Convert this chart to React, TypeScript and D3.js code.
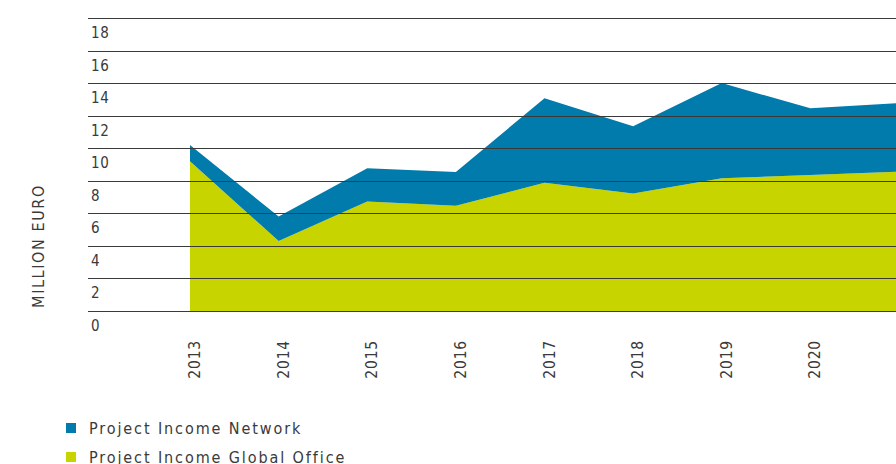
import * as d3 from 'd3';

const years = ['2013', '2014', '2015', '2016', '2017', '2018', '2019', '2020', 'FORECAST 2021'];
const globalOffice = [9.2, 4.3, 6.72, 6.47, 7.88, 7.22, 8.15, 8.35, 8.56];
const network = [1.0, 1.5, 2.05, 2.07, 5.19, 4.13, 5.85, 4.1, 4.22];
const yTicks = [0, 2, 4, 6, 8, 10, 12, 14, 16, 18];

const series = [
  { key: 'global', label: 'Project Income Global Office', color: '#c8d400' },
  { key: 'network', label: 'Project Income Network', color: '#007bac' },
];

const W = 896;
const H = 464;
const font = "'DejaVu Sans Condensed', 'Liberation Sans Narrow', sans-serif";
const ink = '#3a3a3a';

export default function App() {
  const x = d3.scalePoint<string>().domain(years).range([190, 899]);
  const y = d3.scaleLinear().domain([0, 18]).range([311, 18]);

  const rows = years.map((yr, i) => ({ year: yr, global: globalOffice[i], network: network[i] }));
  const stacked = d3.stack<any>().keys(series.map(s => s.key))(rows);

  const area = d3.area<any>()
    .x(d => x(d.data.year) as number)
    .y0(d => y(d[0]))
    .y1(d => y(d[1]));

  return (
    <svg width={W} height={H} style={{ position: 'absolute', left: 0, top: 0, background: '#fff' }}>
      {stacked.map((s, i) => (
        <path key={s.key} d={area(s) || ''} fill={series[i].color} />
      ))}

      {/* gridlines, label sits under each line */}
      {yTicks.map(t => {
        const py = Math.round(y(t)) + 0.5;
        return (
          <g key={t}>
            <line x1={88} x2={W} y1={py} y2={py} stroke={ink} strokeWidth={1.2} />
            <text x={91} y={py + 19} fontFamily={font} fontSize={15} fill={ink} letterSpacing={0.6}>
              {t}
            </text>
          </g>
        );
      })}

      <text
        transform="translate(44,246) rotate(-90)"
        textAnchor="middle"
        fontFamily={font}
        fontSize={16}
        letterSpacing={1.6}
        fill={ink}
      >
        MILLION EURO
      </text>

      {years.map(yr => (
        <text
          key={yr}
          transform={`translate(${(x(yr) as number) + 10},340) rotate(-90)`}
          textAnchor="end"
          fontFamily={font}
          fontSize={15.5}
          letterSpacing={0.8}
          fill={ink}
        >
          {yr}
        </text>
      ))}

      {[series[1], series[0]].map((s, i) => (
        <g key={s.key} transform={`translate(66,${423 + i * 29})`}>
          <rect width={10} height={10} fill={s.color} />
          <text x={23} y={10.5} fontFamily={font} fontSize={16} letterSpacing={1.9} fill={ink}>
            {s.label}
          </text>
        </g>
      ))}
    </svg>
  );
}
